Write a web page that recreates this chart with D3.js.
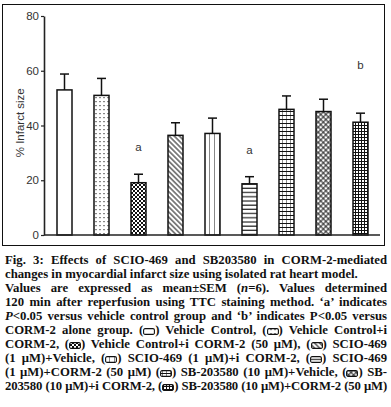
<!DOCTYPE html>
<html><head><meta charset="utf-8">
<script src="https://cdn.jsdelivr.net/npm/d3@7"></script>
<style>
html,body{margin:0;padding:0;background:#fff;}
#wrap{position:relative;width:391px;height:407px;overflow:hidden;}
svg#chart{position:absolute;left:0;top:0;}
.cap{position:absolute;left:5px;width:382px;height:14px;line-height:14px;font-family:"Liberation Serif",serif;font-weight:bold;color:#111;white-space:normal;}
.cap.j{text-align:justify;text-align-last:justify;}
</style></head>
<body><div id="wrap"></div>
<script>
// ---- data ----
const categories = ["Vehicle Control","Vehicle Control+i CORM-2","Vehicle Control+i CORM-2 (50 μM)","SCIO-469 (1 μM)+Vehicle","SCIO-469 (1 μM)+i CORM-2","SCIO-469 (1 μM)+CORM-2 (50 μM)","SB-203580 (10 μM)+Vehicle","SB-203580 (10 μM)+i CORM-2","SB-203580 (10 μM)+CORM-2 (50 μM)"];
const means = [53.0, 51.0, 19.1, 36.4, 37.1, 18.7, 45.9, 45.1, 41.2];
const sems  = [5.8, 6.2, 3.1, 4.6, 5.6, 2.6, 4.9, 4.5, 3.3];
const sigLabels = ["", "", "a", "", "", "a", "", "", "b"];
const sigAt = [null, null, 32, null, null, 31, null, null, 62];
const yTicks = [0, 20, 40, 60, 80];
const yLabel = "% Infarct size";
const captionLines = [
 "Fig. 3: Effects of SCIO-469 and SB203580 in CORM-2-mediated",
 "changes in myocardial infarct size using isolated rat heart model.",
 "Values are expressed as mean±SEM (<i>n</i>=6). Values determined",
 "120 min after reperfusion using TTC staining method. ‘a’ indicates",
 "<i>P</i>&lt;0.05 versus vehicle control group and ‘b’ indicates P&lt;0.05 versus",
 "CORM-2 alone group. ({0}) Vehicle Control, ({1}) Vehicle Control+i",
 "CORM-2, ({2}) Vehicle Control+i CORM-2 (50 μM), ({3}) SCIO-469",
 "(1 μM)+Vehicle, ({4}) SCIO-469 (1 μM)+i CORM-2, ({5}) SCIO-469",
 "(1 μM)+CORM-2 (50 μM) ({6}) SB-203580 (10 μM)+Vehicle, ({7}) SB-",
 "203580 (10 μM)+i CORM-2, ({8}) SB-203580 (10 μM)+CORM-2 (50 μM)"
];
const justified = [true,false,true,true,true,true,true,true,true,true];

// ---- layout ----
const W = 391, H = 407;
const wrap = d3.select("#wrap");
const svg = wrap.append("svg").attr("id","chart").attr("width",W).attr("height",H);
const y = d3.scaleLinear().domain([0,80]).range([235,16]);
const x = d3.scalePoint().domain(categories).range([46,379]).padding(0.5);
const bw = 15;

// frame
svg.append("rect").attr("x",2.5).attr("y",4.5).attr("width",382).attr("height",241)
  .attr("fill","none").attr("stroke","#111").attr("stroke-width",1);

// patterns
const defs = svg.append("defs");
function pat(id, w, h, ox, draw, transform){
  const p = defs.append("pattern").attr("id",id).attr("patternUnits","userSpaceOnUse")
    .attr("width",w).attr("height",h).attr("x",ox).attr("y",0);
  if(transform) p.attr("patternTransform",transform);
  p.append("rect").attr("width",w).attr("height",h).attr("fill","#fff");
  draw(p);
  return p;
}
const bx = i => x(categories[i]) - bw/2;
const ink = "#111";
pat("p1",4,4,bx(1),p=>{p.append("rect").attr("x",1.5).attr("y",1).attr("width",1).attr("height",1.2).attr("fill",ink);});
pat("p2",4,4,bx(2),p=>{p.append("rect").attr("x",0).attr("y",0).attr("width",2).attr("height",2).attr("fill",ink);p.append("rect").attr("x",2).attr("y",2).attr("width",2).attr("height",2).attr("fill",ink);});
pat("p3",3.6,3.6,0,p=>{p.append("rect").attr("x",0).attr("y",1.3).attr("width",3.6).attr("height",1).attr("fill",ink);},"rotate(45)");
pat("p4",5,4,bx(4),p=>{p.append("rect").attr("x",4.5).attr("y",0).attr("width",1.2).attr("height",4).attr("fill",ink);});
pat("p5",4,4.2,0,p=>{p.append("rect").attr("x",0).attr("y",3).attr("width",4).attr("height",1.1).attr("fill",ink);});
pat("p6",4,4,bx(6),p=>{p.append("rect").attr("x",0).attr("y",3).attr("width",4).attr("height",1).attr("fill",ink);p.append("rect").attr("x",3.5).attr("y",0).attr("width",1).attr("height",4).attr("fill",ink);});
pat("p7",3.6,3.6,0,p=>{p.append("rect").attr("x",0).attr("y",1.3).attr("width",3.6).attr("height",0.9).attr("fill",ink);p.append("rect").attr("x",1.3).attr("y",0).attr("width",0.9).attr("height",3.6).attr("fill",ink);},"rotate(45)");
pat("p8",3,3,bx(8),p=>{p.append("rect").attr("x",0).attr("y",2).attr("width",3).attr("height",1).attr("fill",ink);p.append("rect").attr("x",2).attr("y",0).attr("width",1).attr("height",3).attr("fill",ink);});
const fills = ["#fff","url(#p1)","url(#p2)","url(#p3)","url(#p4)","url(#p5)","url(#p6)","url(#p7)","url(#p8)"];

// bars
const data = categories.map((c,i)=>({c, m:means[i], s:sems[i], lab:sigLabels[i], at:sigAt[i], i}));
svg.append("g").selectAll("rect").data(data).join("rect")
  .attr("x",d=>x(d.c)-bw/2).attr("width",bw)
  .attr("y",d=>y(d.m)).attr("height",d=>y(0)-y(d.m))
  .attr("fill",d=>fills[d.i]).attr("stroke",ink).attr("stroke-width",1.5);

// error bars
const eb = svg.append("g").attr("stroke",ink).attr("stroke-width",1.5);
eb.selectAll("line.v").data(data).join("line").attr("class","v")
  .attr("x1",d=>x(d.c)).attr("x2",d=>x(d.c)).attr("y1",d=>y(d.m)).attr("y2",d=>y(d.m+d.s));
eb.selectAll("line.c").data(data).join("line").attr("class","c")
  .attr("x1",d=>x(d.c)-4.5).attr("x2",d=>x(d.c)+4.5).attr("y1",d=>y(d.m+d.s)).attr("y2",d=>y(d.m+d.s));

// significance labels
svg.append("g").selectAll("text").data(data.filter(d=>d.lab)).join("text")
  .attr("x",d=>x(d.c)).attr("y",d=>y(d.at)).attr("dy","0.35em")
  .attr("text-anchor","middle").attr("font-family","Liberation Sans, Arial, sans-serif")
  .attr("font-size",11.5).attr("fill","#333").text(d=>d.lab);

// axes
const ya = svg.append("g").attr("transform","translate(44,0)")
  .call(d3.axisLeft(y).tickValues(yTicks).tickSize(3).tickPadding(2).tickSizeOuter(0));
ya.select(".domain").attr("stroke","#222").attr("stroke-width",1.6);
ya.selectAll(".tick line").attr("stroke","#222").attr("stroke-width",1.2);
ya.selectAll(".tick text").attr("font-family","Liberation Sans, Arial, sans-serif").attr("font-size",11.5).attr("fill","#333");
svg.append("line").attr("x1",44).attr("x2",380).attr("y1",y(0)).attr("y2",y(0))
  .attr("stroke","#222").attr("stroke-width",1.6);
svg.append("text").attr("transform","translate(20,"+y(41)+") rotate(-90)")
  .attr("text-anchor","middle").attr("dy","0.35em")
  .attr("font-family","Liberation Sans, Arial, sans-serif").attr("font-size",11.5).attr("fill","#333").text(yLabel);

// caption
const cv = document.createElement("canvas").getContext("2d");
cv.font = "bold 100px 'Liberation Serif'";
const plain = s => s.replace(/<[^>]+>/g,"").replace(/&lt;/g,"<");
const fs = 100*353/cv.measureText(plain(captionLines[1])).width;
cv.font = "bold " + fs + "px 'Liberation Serif'";
const swatch = i => `<svg width="12" height="7" style="vertical-align:-0.5px"><rect x="0.6" y="0.6" width="10.8" height="5.8" rx="1.5" fill="${fills[i]}" stroke="#111" stroke-width="1.1"/></svg>`;
captionLines.forEach((l,k)=>{
  const sw = (l.match(/\{\d\}/g)||[]).length;
  const txt = plain(l).replace(/\{\d\}/g,"");
  const w = cv.measureText(txt).width + 12*sw;
  const avail = 380;
  const ls = w > avail ? (avail - w)/txt.length : 0;
  wrap.append("div").attr("class","cap"+(justified[k]?" j":""))
    .style("top",(253+14*k)+"px").style("font-size",fs+"px")
    .style("letter-spacing", ls + "px")
    .html(l.replace(/\{(\d)\}/g,(m,g)=>swatch(+g)));
});
</script></body></html>
